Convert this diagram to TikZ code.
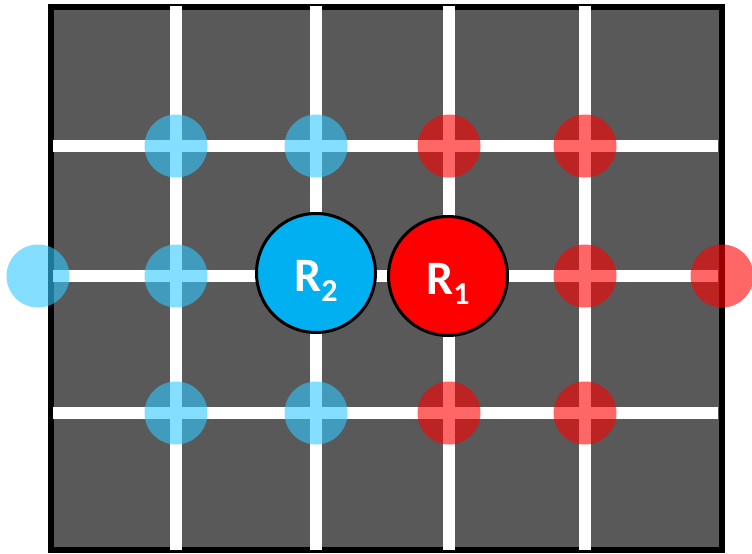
\documentclass[tikz,border=0pt]{standalone}
\usepackage{fontspec}
\setmainfont{Carlito}
\usepackage{xcolor}

\definecolor{boardgray}{RGB}{89,89,89}
\definecolor{robotblue}{RGB}{0,176,240}
\definecolor{ghostblue}{RGB}{50,200,255}
\definecolor{robotred}{RGB}{255,0,0}

% lowered index of a robot label
\newcommand{\robotsub}[1]{\raisebox{-7.5pt}{\fontsize{24}{24}\selectfont #1}}

\begin{document}
\begin{tikzpicture}[x=0.75pt, y=-0.75pt,
        % Define a style for the faded cells and the two robots
        ghost/.style={circle, minimum size=47.25pt, inner sep=0pt, fill opacity=0.6},
        robot/.style={circle, draw=black, line width=2.25pt, minimum size=89.25pt, inner sep=0pt,
            text=white, text height=27.75pt, text depth=0pt,
            font=\bfseries\fontsize{36}{40}\selectfont}]

        \useasboundingbox (0,0) rectangle (752,553);

        % 1. The board
        \fill[boardgray] (50.5,6.5) rectangle (722,550);
        \draw[line width=4.5pt] (50.5,6.5) rectangle (722,550);

        % 2. The white grid lines
        \foreach \gx in {176,316,449,585}
            \draw[white, line width=9pt] (\gx,6) -- (\gx,550);
        \foreach \gy in {146,276,413}
            \draw[white, line width=9pt] (53,\gy) -- (718,\gy);

        % 3. Faded cells around R2
        \node[ghost, fill=ghostblue] (b1) at (176,146) {};
        \node[ghost, fill=ghostblue] (b2) at (316,146) {};
        \node[ghost, fill=ghostblue] (b3) at (38,276) {};
        \node[ghost, fill=ghostblue] (b4) at (176,276) {};
        \node[ghost, fill=ghostblue] (b5) at (176,413) {};
        \node[ghost, fill=ghostblue] (b6) at (316,413) {};

        % 4. Faded cells around R1
        \node[ghost, fill=robotred] (a1) at (449,146) {};
        \node[ghost, fill=robotred] (a2) at (585,146) {};
        \node[ghost, fill=robotred] (a3) at (585,276) {};
        \node[ghost, fill=robotred] (a4) at (722,276) {};
        \node[ghost, fill=robotred] (a5) at (449,413) {};
        \node[ghost, fill=robotred] (a6) at (585,413) {};

        % 5. The robots
        \node[robot, fill=robotblue] (r2) at (316,273) {R\robotsub{2}};
        \node[robot, fill=robotred] (r1) at (448,276) {R\robotsub{1}};
    \end{tikzpicture}
\end{document}
